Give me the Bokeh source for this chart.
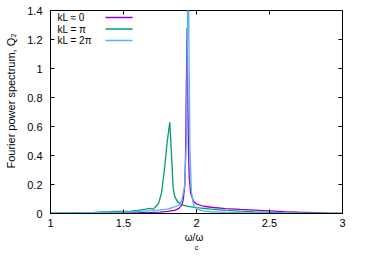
from bokeh.plotting import figure
from bokeh.models import FixedTicker, Range1d, Label, Arrow, Title
from bokeh.embed import file_html
from bokeh.resources import INLINE

# --- data ---
x_k0 = [1.0, 1.2, 1.4, 1.5, 1.6, 1.7, 1.75, 1.8, 1.85, 1.88, 1.9, 1.91, 1.92, 1.925,
        1.93, 1.936, 1.94, 1.945, 1.95, 1.96, 1.98, 2.0, 2.05, 2.1, 2.2, 2.3, 2.4, 2.5,
        2.6, 2.7, 2.8, 2.9, 3.0]
y_k0 = [0.0, 0.002, 0.004, 0.005, 0.006, 0.008, 0.01, 0.014, 0.022, 0.035, 0.06, 0.1,
        0.2, 0.4, 0.85, 1.28, 0.8, 0.45, 0.25, 0.14, 0.085, 0.065, 0.05, 0.043, 0.034,
        0.028, 0.023, 0.018, 0.013, 0.009, 0.006, 0.003, 0.001]

x_kpi = [1.0, 1.2, 1.3, 1.4, 1.45, 1.5, 1.55, 1.6, 1.65, 1.68, 1.7, 1.72, 1.74, 1.76,
         1.78, 1.8, 1.817, 1.83, 1.84, 1.85, 1.87, 1.9, 1.95, 2.0, 2.1, 2.2, 2.3, 2.4,
         2.5, 2.6, 2.8, 3.0]
y_kpi = [0.003, 0.005, 0.007, 0.012, 0.015, 0.014, 0.017, 0.022, 0.03, 0.036, 0.03,
         0.045, 0.07, 0.14, 0.3, 0.5, 0.63, 0.38, 0.18, 0.12, 0.08, 0.06, 0.048, 0.04,
         0.03, 0.022, 0.016, 0.011, 0.008, 0.005, 0.003, 0.001]

x_k2pi = [1.0, 1.2, 1.4, 1.5, 1.6, 1.7, 1.8, 1.85, 1.88, 1.9, 1.92, 1.93, 1.938,
          1.943, 1.948, 1.955, 1.965, 1.98, 2.0, 2.05, 2.1, 2.2, 2.3, 2.5, 2.7, 3.0]
y_k2pi = [0.002, 0.004, 0.008, 0.01, 0.014, 0.02, 0.03, 0.045, 0.06, 0.09, 0.2, 0.5,
          1.2, 2.3, 1.2, 0.45, 0.15, 0.06, 0.03, 0.018, 0.012, 0.008, 0.006, 0.004,
          0.002, 0.001]

labels = ["kL \u2248 0", "kL = \u03c0", "kL = 2\u03c0"]
colors = ["#9400d3", "#009e73", "#56b4e9"]

x_ticks = [1, 1.5, 2, 2.5, 3]
x_tick_labels = ["1", "1.5", "2", "2.5", "3"]
y_ticks = [0, 0.2, 0.4, 0.6, 0.8, 1.0, 1.2, 1.4]
y_tick_labels = ["0", "0.2", "0.4", "0.6", "0.8", "1", "1.2", "1.4"]

X0, X1, Y0, Y1 = 1, 3, 0, 1.4
FONT = "Liberation Sans"

W, H = 358, 256
BL, BR, BT, BB = 50, 16, 10, 43

p = figure(width=W, height=H, output_backend="svg", toolbar_location=None,
           x_range=Range1d(X0, X1), y_range=Range1d(Y0, Y1),
           min_border_left=BL, min_border_right=BR, min_border_top=BT, min_border_bottom=BB)
p.grid.grid_line_color = None
p.outline_line_color = "black"
p.outline_line_width = 1

series = [(x_k0, y_k0), (x_kpi, y_kpi), (x_k2pi, y_k2pi)]
for (xs, ys), c in zip(series, colors):
    p.line(xs, ys, line_color=c, line_width=1.3)

for ax, ticks, tlabels in ((p.xaxis[0], x_ticks, x_tick_labels),
                           (p.yaxis[0], y_ticks, y_tick_labels)):
    ax.ticker = FixedTicker(ticks=ticks)
    ax.major_label_overrides = {t: l for t, l in zip(ticks, tlabels)}
    ax.major_tick_in = 4
    ax.major_tick_out = 0
    ax.minor_tick_line_color = None
    ax.axis_line_color = "black"
    ax.major_tick_line_color = "black"
    ax.major_label_text_font = FONT
    ax.major_label_text_font_size = "11px"
    ax.major_label_text_color = "black"
    ax.axis_label_text_font = FONT
    ax.axis_label_text_font_style = "normal"
    ax.axis_label_text_font_size = "10px"
    ax.axis_label_text_color = "black"

p.xaxis[0].major_label_standoff = 5
p.yaxis[0].major_label_standoff = 8
p.xaxis[0].axis_label = "\u03c9/\u03c9\u2002"
p.xaxis[0].axis_label_standoff = 2
p.yaxis[0].axis_label = "\u2002\u2002\u2002\u2002Fourier power spectrum, Q\u2082"
p.yaxis[0].axis_label_text_font_size = "11px"
p.yaxis[0].axis_label_standoff = 7

# mirrored inward ticks on top and right (gnuplot style)
frame_w = W - BL - BR
frame_h = H - BT - BB
tx = 4 * (X1 - X0) / frame_w
ty = 4 * (Y1 - Y0) / frame_h
p.segment(x0=x_ticks, y0=[Y1] * len(x_ticks), x1=x_ticks, y1=[Y1 - ty] * len(x_ticks),
          line_color="black", line_width=1)
p.segment(x0=[X1] * len(y_ticks), y0=y_ticks, x1=[X1 - tx] * len(y_ticks), y1=y_ticks,
          line_color="black", line_width=1)

# subscript c on the x label
p.add_layout(Title(text="c", align="center", offset=7, standoff=-7,
                   text_font=FONT, text_font_size="7px", text_font_style="normal",
                   text_color="black"), "below")

# gnuplot-style legend: text then line sample
for i, (lab, c) in enumerate(zip(labels, colors)):
    yy = frame_h - 7 - i * 11.5
    p.add_layout(Label(x=7, y=yy, x_units="screen", y_units="screen", text=lab,
                       text_font=FONT, text_font_size="10px", text_color="black",
                       text_baseline="middle"))
    p.add_layout(Arrow(x_start=55, y_start=yy, x_end=82, y_end=yy,
                       start_units="screen", end_units="screen", end=None,
                       line_color=c, line_width=1.3))

open("out.html", "w").write(file_html(p, INLINE))
